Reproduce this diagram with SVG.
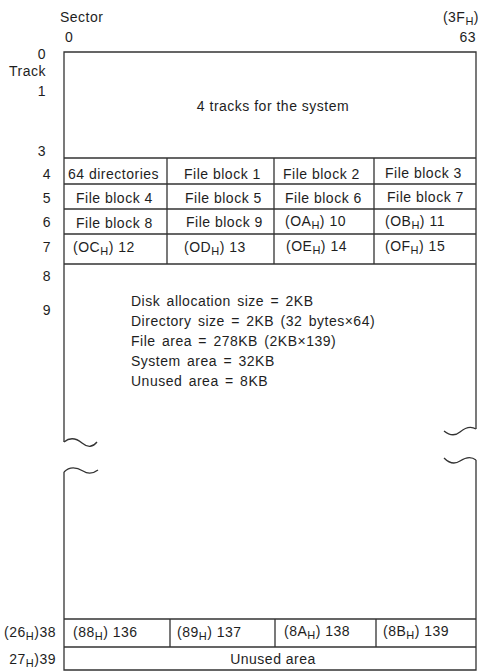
<svg xmlns="http://www.w3.org/2000/svg" width="480" height="672" viewBox="0 0 480 672">
<style>
text{font-family:"Liberation Sans",Arial,sans-serif;font-size:14px;fill:#1e1e1e;letter-spacing:0.5px}
.s{font-size:11px}
.r{text-anchor:end}
.m{text-anchor:middle}
.sum{word-spacing:2px}
.ln{stroke:#333;stroke-width:1.3;fill:none}
</style>
<rect width="480" height="672" fill="#fff"/>
<g id="axis-labels">
<text x="60" y="22">Sector</text>
<text x="65" y="42">0</text>
<text x="479" y="22" class="r">(3F<tspan class="s" dy="3">H</tspan><tspan dy="-3">)</tspan></text>
<text x="476" y="42" class="r">63</text>
<text x="46" y="59" class="r">0</text>
<text x="9" y="76">Track</text>
<text x="46" y="96" class="r">1</text>
<text x="46" y="156" class="r">3</text>
<text x="51" y="179" class="r">4</text>
<text x="51" y="203" class="r">5</text>
<text x="51" y="227" class="r">6</text>
<text x="51" y="252" class="r">7</text>
<text x="51" y="281" class="r">8</text>
<text x="51" y="315" class="r">9</text>
<text x="56" y="637" class="r">(26<tspan class="s" dy="3">H</tspan><tspan dy="-3">)38</tspan></text>
<text x="56" y="664" class="r">27<tspan class="s" dy="3">H</tspan><tspan dy="-3">)39</tspan></text>
</g>
<g id="connectors">
<path class="ln" d="M64,442 V52 H476 V429"/>
<path class="ln" d="M64,442 C70,437 76,438 82,443 C88,448 93,447 97,442"/>
<path class="ln" d="M476,429 C471,426 466,427 460,432 C454,437 449,435 444,431"/>
<path class="ln" d="M64,472 V670 H476 V460"/>
<path class="ln" d="M64,472 C70,466 76,467 83,471 C89,475 94,473 98,470"/>
<path class="ln" d="M476,460 C471,456 466,457 460,461 C454,465 449,463 444,458"/>
<path class="ln" d="M64,158 H476 M64,184 H476 M64,209 H476 M64,234 H476 M64,264 H476 M167,158 V264 M274,158 V264 M374,158 V264"/>
<path class="ln" d="M64,619 H476 M64,647 H476 M170,619 V647 M275,619 V647 M376,619 V647"/>
</g>
<g id="system-tracks"><text x="273" y="111" class="m">4 tracks for the system</text></g>
<g id="row4">
<text x="68" y="179">64 directories</text>
<text x="184" y="179">File block 1</text>
<text x="283" y="179">File block 2</text>
<text x="385" y="178">File block 3</text>
</g>
<g id="row5">
<text x="76" y="203">File block 4</text>
<text x="185" y="203">File block 5</text>
<text x="285" y="203">File block 6</text>
<text x="387" y="202">File block 7</text>
</g>
<g id="row6">
<text x="76" y="228">File block 8</text>
<text x="186" y="227">File block 9</text>
<text x="285" y="226">(OA<tspan class="s" dy="3">H</tspan><tspan dy="-3">) 10</tspan></text>
<text x="385" y="226">(OB<tspan class="s" dy="3">H</tspan><tspan dy="-3">) 11</tspan></text>
</g>
<g id="row7">
<text x="73" y="252">(OC<tspan class="s" dy="3">H</tspan><tspan dy="-3">) 12</tspan></text>
<text x="184" y="252">(OD<tspan class="s" dy="3">H</tspan><tspan dy="-3">) 13</tspan></text>
<text x="286" y="251">(OE<tspan class="s" dy="3">H</tspan><tspan dy="-3">) 14</tspan></text>
<text x="385" y="251">(OF<tspan class="s" dy="3">H</tspan><tspan dy="-3">) 15</tspan></text>
</g>
<g id="summary" class="sum">
<text x="131" y="306">Disk allocation size = 2KB</text>
<text x="131" y="326">Directory size = 2KB (32 bytes×64)</text>
<text x="131" y="346">File area = 278KB (2KB×139)</text>
<text x="131" y="366">System area = 32KB</text>
<text x="131" y="386">Unused area = 8KB</text>
</g>
<g id="row38">
<text x="73" y="637">(88<tspan class="s" dy="3">H</tspan><tspan dy="-3">) 136</tspan></text>
<text x="177" y="637">(89<tspan class="s" dy="3">H</tspan><tspan dy="-3">) 137</tspan></text>
<text x="284" y="636">(8A<tspan class="s" dy="3">H</tspan><tspan dy="-3">) 138</tspan></text>
<text x="383" y="636">(8B<tspan class="s" dy="3">H</tspan><tspan dy="-3">) 139</tspan></text>
</g>
<g id="row39"><text x="273" y="664" class="m">Unused area</text></g>
</svg>
